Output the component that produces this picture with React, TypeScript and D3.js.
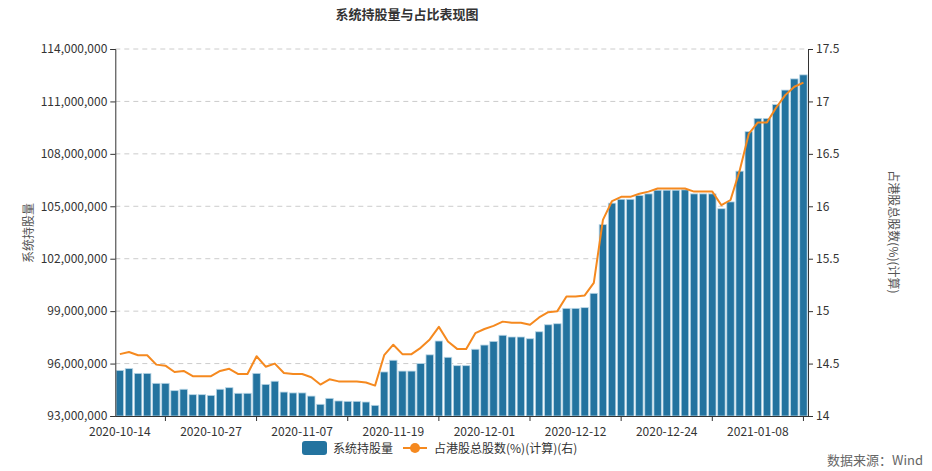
import { useEffect, useRef } from 'react';
import * as d3 from 'd3';

const dates = [
  '2020-10-14', '2020-10-15', '2020-10-16', '2020-10-17', '2020-10-19', '2020-10-20', '2020-10-21', '2020-10-22', '2020-10-23', '2020-10-24',
  '2020-10-27', '2020-10-28', '2020-10-29', '2020-10-30', '2020-10-31', '2020-11-02', '2020-11-03', '2020-11-04', '2020-11-05', '2020-11-06',
  '2020-11-07', '2020-11-09', '2020-11-10', '2020-11-11', '2020-11-12', '2020-11-13', '2020-11-14', '2020-11-16', '2020-11-17', '2020-11-18',
  '2020-11-19', '2020-11-20', '2020-11-21', '2020-11-23', '2020-11-24', '2020-11-25', '2020-11-26', '2020-11-27', '2020-11-28', '2020-11-30',
  '2020-12-01', '2020-12-02', '2020-12-03', '2020-12-04', '2020-12-05', '2020-12-07', '2020-12-08', '2020-12-09', '2020-12-10', '2020-12-11',
  '2020-12-12', '2020-12-14', '2020-12-15', '2020-12-16', '2020-12-17', '2020-12-18', '2020-12-19', '2020-12-21', '2020-12-22', '2020-12-23',
  '2020-12-24', '2020-12-28', '2020-12-29', '2020-12-30', '2020-12-31', '2021-01-02', '2021-01-04', '2021-01-05', '2021-01-06', '2021-01-07',
  '2021-01-08', '2021-01-09', '2021-01-11', '2021-01-12', '2021-01-13', '2021-01-14',
];

// 系统持股量 (百万股)
const holdings = [
  95.61, 95.71, 95.44, 95.44, 94.87, 94.87, 94.45, 94.53, 94.22, 94.22,
  94.18, 94.53, 94.62, 94.30, 94.30, 95.44, 94.81, 94.99, 94.37, 94.32,
  94.32, 94.14, 93.67, 94.01, 93.86, 93.84, 93.84, 93.80, 93.61, 95.52,
  96.19, 95.57, 95.57, 96.00, 96.50, 97.29, 96.36, 95.88, 95.88, 96.82,
  97.06, 97.27, 97.62, 97.52, 97.52, 97.42, 97.82, 98.22, 98.28, 99.16,
  99.16, 99.20, 100.02, 103.95, 105.18, 105.40, 105.40, 105.62, 105.71, 105.92,
  105.92, 105.92, 105.94, 105.71, 105.71, 105.71, 104.86, 105.25, 107.01, 109.27,
  110.03, 110.03, 110.82, 111.65, 112.29, 112.52,
];

// 占港股总股数(%)(计算)
const ratio = [
  14.59, 14.61, 14.58, 14.58, 14.49, 14.48, 14.42, 14.43, 14.38, 14.38,
  14.38, 14.43, 14.45, 14.40, 14.40, 14.57, 14.47, 14.50, 14.41, 14.40,
  14.40, 14.37, 14.30, 14.35, 14.33, 14.33, 14.33, 14.32, 14.29, 14.58,
  14.68, 14.59, 14.59, 14.65, 14.73, 14.85, 14.71, 14.64, 14.64, 14.79,
  14.83, 14.86, 14.90, 14.89, 14.89, 14.87, 14.94, 14.99, 15.00, 15.14,
  15.14, 15.15, 15.27, 15.87, 16.05, 16.09, 16.09, 16.12, 16.14, 16.17,
  16.17, 16.17, 16.17, 16.14, 16.14, 16.14, 16.01, 16.06, 16.34, 16.69,
  16.80, 16.80, 16.94, 17.06, 17.14, 17.18,
];

const leftTicks = [93, 96, 99, 102, 105, 108, 111, 114];
const rightTicks = [14, 14.5, 15, 15.5, 16, 16.5, 17, 17.5];

const W = 932;
const H = 471;
const FONT = '"Microsoft YaHei", "Noto Sans CJK SC", sans-serif';
const BAR = '#23739f';
const LINE = '#f5891f';

export default function App() {
  const svgRef = useRef<SVGSVGElement>(null);

  useEffect(() => {
    if (!svgRef.current) return;
    const svg = d3.select(svgRef.current);
    svg.selectAll('*').remove();

    const left = 115.3;
    const right = 808;
    const top = 49;
    const bottom = 416;

    const x = d3.scaleBand<number>().domain(d3.range(dates.length)).range([left, right]).padding(0);
    const yL = d3.scaleLinear().domain([93, 114]).range([bottom, top]);
    const yR = d3.scaleLinear().domain([14, 17.5]).range([bottom, top]);
    const bw = x.bandwidth();

    // grid
    svg.append('g')
      .selectAll('line')
      .data(leftTicks.slice(1))
      .join('line')
      .attr('x1', left)
      .attr('x2', right)
      .attr('y1', (d) => yL(d))
      .attr('y2', (d) => yL(d))
      .attr('stroke', '#ccc')
      .attr('stroke-dasharray', '5,4');

    // bars
    svg.append('g')
      .selectAll('rect')
      .data(holdings)
      .join('rect')
      .attr('x', (_, i) => (x(i) as number) + bw * 0.09)
      .attr('width', bw * 0.82)
      .attr('y', (d) => yL(d))
      .attr('height', (d) => bottom - yL(d))
      .attr('fill', BAR)
      .attr('stroke', '#b9d6e6')
      .attr('stroke-width', 0.8);

    // line
    const line = d3.line<number>()
      .x((_, i) => (x(i) as number) + bw / 2)
      .y((d) => yR(d));
    svg.append('path')
      .datum(ratio)
      .attr('fill', 'none')
      .attr('stroke', LINE)
      .attr('stroke-width', 2)
      .attr('stroke-linejoin', 'round')
      .attr('d', line);

    // axes
    const gl = svg.append('g')
      .attr('transform', `translate(${left},0)`)
      .call(d3.axisLeft(yL).tickValues(leftTicks).tickSize(5).tickPadding(3)
        .tickFormat((d) => d3.format(',')(Math.round((d as number) * 1e6))));
    const gr = svg.append('g')
      .attr('transform', `translate(${right},0)`)
      .call(d3.axisRight(yR).tickValues(rightTicks).tickSize(5).tickPadding(3)
        .tickFormat((d) => String(d)));
    const gb = svg.append('g')
      .attr('transform', `translate(0,${bottom})`)
      .call(d3.axisBottom(x).tickValues([]).tickSizeOuter(0));
    // ticks sit mid-way between the labels, as in the source chart
    gb.selectAll('line.tk')
      .data(d3.range(5, dates.length, 10))
      .join('line')
      .attr('class', 'tk')
      .attr('x1', (i) => (x(i) as number) + bw / 2)
      .attr('x2', (i) => (x(i) as number) + bw / 2)
      .attr('y1', 0)
      .attr('y2', 5)
      .attr('stroke', '#333');
    gb.selectAll('text.lb')
      .data(d3.range(0, dates.length, 10))
      .join('text')
      .attr('class', 'lb')
      .attr('x', (i) => (x(i) as number) + bw / 2)
      .attr('y', 20)
      .attr('text-anchor', 'middle')
      .text((i) => dates[i]);

    [gl, gr, gb].forEach((g) => {
      g.selectAll('path.domain').attr('stroke', '#333');
      g.selectAll('.tick line').attr('stroke', '#333');
      g.selectAll('text').attr('fill', '#333').style('font-family', FONT).style('font-size', '12px');
    });

    // titles
    svg.append('text')
      .attr('x', 407)
      .attr('y', 19)
      .attr('text-anchor', 'middle')
      .attr('fill', '#333')
      .style('font-size', '13px')
      .style('font-weight', 'bold')
      .text('系统持股量与占比表现图');

    svg.append('text')
      .attr('transform', 'translate(33,233) rotate(-90)')
      .attr('text-anchor', 'middle')
      .attr('fill', '#555')
      .style('font-size', '12px')
      .text('系统持股量');

    svg.append('text')
      .attr('transform', 'translate(889,232) rotate(90)')
      .attr('text-anchor', 'middle')
      .attr('fill', '#555')
      .style('font-size', '12px')
      .text('占港股总股数(%)(计算)');

    // legend
    const lg = svg.append('g');
    lg.append('rect')
      .attr('x', 302).attr('y', 441).attr('width', 25).attr('height', 14).attr('rx', 3)
      .attr('fill', BAR);
    lg.append('text')
      .attr('x', 333).attr('y', 452.5).attr('fill', '#333').style('font-size', '12px')
      .text('系统持股量');
    lg.append('line')
      .attr('x1', 403).attr('x2', 427).attr('y1', 448).attr('y2', 448)
      .attr('stroke', LINE).attr('stroke-width', 2);
    lg.append('circle')
      .attr('cx', 415).attr('cy', 448).attr('r', 5).attr('fill', LINE);
    lg.append('text')
      .attr('x', 434).attr('y', 452.5).attr('fill', '#333').style('font-size', '12px')
      .text('占港股总股数(%)(计算)(右)');

    svg.append('text')
      .attr('x', 923).attr('y', 465).attr('text-anchor', 'end')
      .attr('fill', '#666').style('font-size', '13px')
      .text('数据来源：Wind');
  }, []);

  return (
    <svg
      ref={svgRef}
      width={W}
      height={H}
      style={{ position: 'absolute', left: 0, top: 0, fontFamily: FONT, background: '#fff' }}
    />
  );
}
